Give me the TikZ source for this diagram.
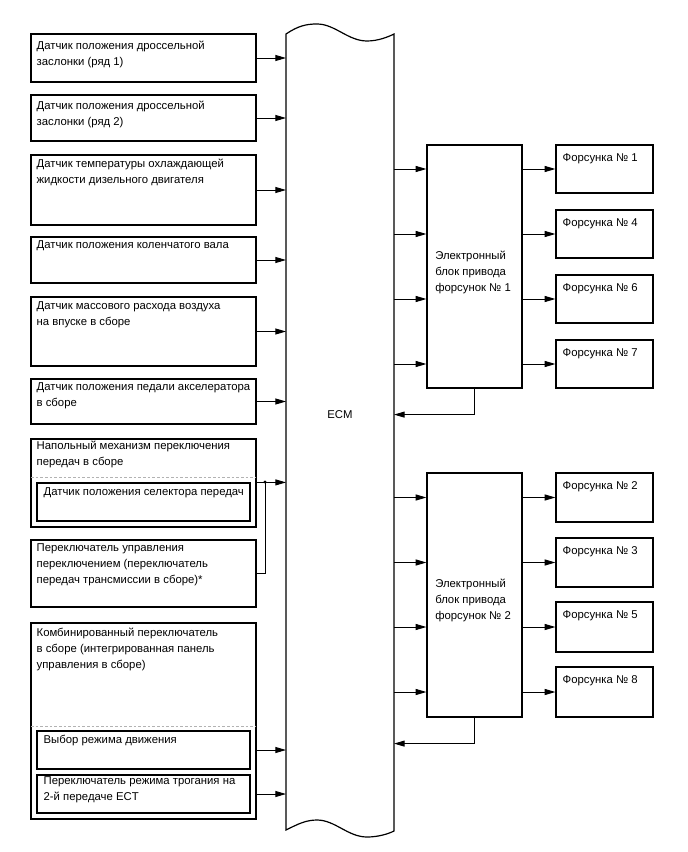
\documentclass[tikz,border=0pt]{standalone}
\usepackage{fontspec}
\setmainfont{Liberation Sans}
\usetikzlibrary{arrows.meta,fit,positioning}

\tikzset{
  box/.style={draw, line width=0.9pt, inner sep=0pt},
  txt/.style={anchor=north west, inner sep=0pt, align=left,
    font=\fontsize{8.5pt}{12pt}\selectfont, execute at begin node={\strut}},
  arr/.style={-{Triangle[length=8pt,width=4.5pt]}, line width=0.7pt},
  link/.style={line width=0.7pt},
  sepline/.style={draw=gray!60, line width=0.5pt, dash pattern=on 2pt off 1.5pt}
}

\begin{document}
\begin{tikzpicture}[x=0.75pt, y=-0.75pt]

        % 1. Рамка рисунка
        \useasboundingbox (0,0) rectangle (688,852);

        % 2. Блок ECM с волнистыми краями
        \node[inner sep=0pt, outer sep=0pt, fit={(286,34) (394,830)}] (ecm) {};
        \draw[line width=0.9pt] (286,34) .. controls (298,26) and (306,24) .. (317,24)
            .. controls (335,24) and (348,41) .. (367,41)
            .. controls (378,41) and (388,37) .. (394,34)
            -- (394,831) .. controls (388,834) and (378,837) .. (367,837)
            .. controls (348,837) and (335,820) .. (317,820)
            .. controls (306,820) and (298,824) .. (286,830) -- cycle;
        \node[inner sep=0pt, font=\fontsize{8.5pt}{12pt}\selectfont] (ecmlbl) at (340,415) {ECM};

        % 3. Датчики слева, каждый со стрелкой в ECM
        \foreach \nm/\top/\bot/\dy/\lbl in {
            tpsa/34/82/7/{Датчик положения дроссельной\\заслонки (ряд 1)},
            tpsb/95/141/6/{Датчик положения дроссельной\\заслонки (ряд 2)},
            ect/155/225/4/{Датчик температуры охлаждающей\\жидкости дизельного двигателя},
            ckp/237/283/1/{Датчик положения коленчатого вала},
            maf/297/366/5/{Датчик массового расхода воздуха\\на впуске в сборе},
            app/379/424/4/{Датчик положения педали акселератора\\в сборе}} {
          \node[box, fit={(31,\top) (256,\bot)}] (\nm) {};
          \node[txt] (\nm lbl) at ([shift={(6,\dy)}]\nm.north west) {\lbl};
          \draw[arr] (\nm.east) -- (\nm.east -| ecm.west);
        }

        % 4. Напольный механизм и датчик селектора
        \node[box, fit={(31,439) (256,527)}] (shl) {};
        \node[txt] (shllbl) at ([shift={(6,2.8)}]shl.north west) {Напольный механизм переключения\\передач в сборе};
        \draw[sepline] (31,477) -- (256,477);
        \node[box, fit={(37,483) (250,521)}] (sel) {};
        \node[txt] (sellbl) at ([shift={(7,1.8)}]sel.north west) {Датчик положения селектора передач};
        \draw[arr] (shl.east |- sel.north) -- (sel.north -| ecm.west);

        % 5. Переключатель управления, подключён к той же линии
        \node[box, fit={(31,540) (256,607)}] (sws) {};
        \node[txt] (swslbl) at ([shift={(6,3.8)}]sws.north west) {Переключатель управления\\переключением (переключатель\\передач трансмиссии в сборе)*};
        \coordinate (jn) at (265,482);
        \draw[link] (sws.east) -| (jn);
        \fill (jn) circle (1.6);

        % 6. Комбинированный переключатель
        \node[box, fit={(31,623) (256,819)}] (cmb) {};
        \node[txt] (cmblbl) at ([shift={(6,5.8)}]cmb.north west) {Комбинированный переключатель\\в сборе (интегрированная панель\\управления в сборе)};
        \draw[sepline] (31,726) -- (256,726);
        \node[box, fit={(37,731) (250,769)}] (dmd) {};
        \node[txt] (dmdlbl) at ([shift={(7,1.8)}]dmd.north west) {Выбор режима движения};
        \draw[arr] (cmb.east |- dmd.east) -- (dmd.east -| ecm.west);
        \node[box, fit={(37,775) (250,813)}] (est) {};
        \node[txt] (estlbl) at ([shift={(7,2.5)}]est.north west) {Переключатель режима трогания на\\2-й передаче ECT};
        \draw[arr] (cmb.east |- est.east) -- (est.east -| ecm.west);

        % 7. Электронные блоки привода форсунок
        \node[box, fit={(427,145) (522,388)}] (drva) {};
        \node[txt] (drvalbl) at (435,251.3) {Электронный\\блок привода\\форсунок № 1};
        \node[box, fit={(427,473) (522,717)}] (drvb) {};
        \node[txt] (drvblbl) at (435,579.3) {Электронный\\блок привода\\форсунок № 2};

        % 8. Форсунки и стрелки
        \foreach \drv/\n/\top/\h in {drva/1/145/48, drva/4/210/48, drva/6/275/48, drva/7/340/48,
                                     drvb/2/473/49, drvb/3/538/49, drvb/5/602/50, drvb/8/667/50} {
          \node[box, fit={(556,\top) (653,\top+\h)}] (inj\n) {};
          \node[txt] (inj\n lbl) at ([shift={(7,5.8)}]inj\n.north west) {Форсунка № \n};
          \draw[arr] (ecm.east |- inj\n.west) -- (\drv.west |- inj\n.west);
          \draw[arr] (\drv.east |- inj\n.west) -- (inj\n.west);
        }

        % 9. Обратная связь от блоков в ECM
        \draw[arr] (drva.south) -- ++(0,26) coordinate (reta) -- (reta -| ecm.east);
        \draw[arr] (drvb.south) -- ++(0,26) coordinate (retb) -- (retb -| ecm.east);

\end{tikzpicture}
\end{document}
